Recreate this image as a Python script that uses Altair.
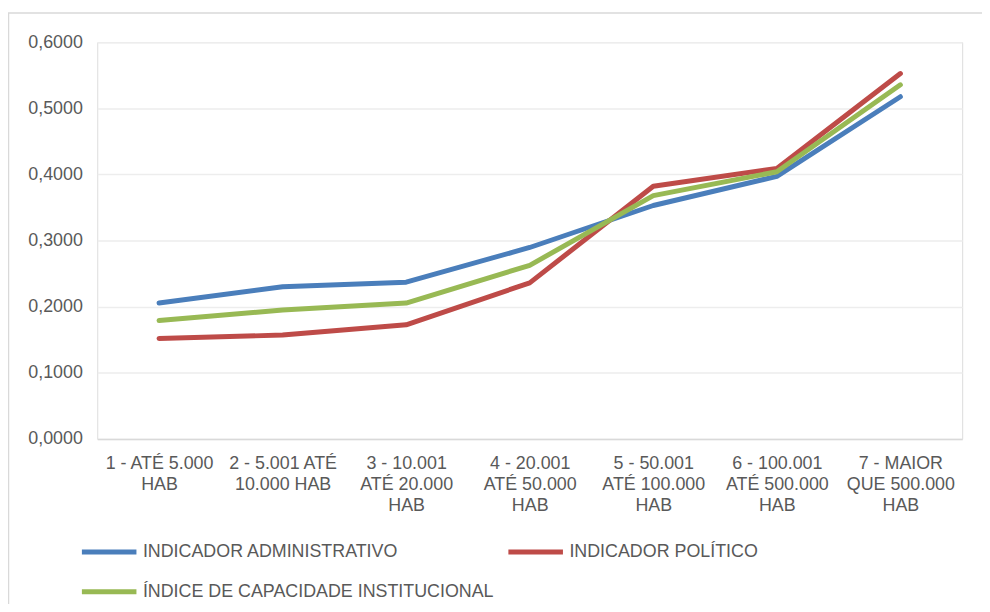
import altair as alt
import pandas as pd

categories = [
    "1 - ATÉ 5.000|HAB",
    "2 - 5.001 ATÉ|10.000 HAB",
    "3 - 10.001|ATÉ 20.000|HAB",
    "4 - 20.001|ATÉ 50.000|HAB",
    "5 - 50.001|ATÉ 100.000|HAB",
    "6 - 100.001|ATÉ 500.000|HAB",
    "7 - MAIOR|QUE 500.000|HAB",
]
series_names = [
    "INDICADOR ADMINISTRATIVO",
    "INDICADOR POLÍTICO",
    "ÍNDICE DE CAPACIDADE INSTITUCIONAL",
]
administrativo = [0.2055, 0.2300, 0.2370, 0.2895, 0.3530, 0.3970, 0.5175]
politico = [0.1520, 0.1570, 0.1725, 0.2360, 0.3820, 0.4090, 0.5525]
indice = [0.1790, 0.1950, 0.2055, 0.2625, 0.3680, 0.4040, 0.5355]
colors = ["#4A7EBB", "#BE4B48", "#98B954"]

rows = []
for name, vals in zip(series_names, [administrativo, politico, indice]):
    for i, (c, v) in enumerate(zip(categories, vals)):
        rows.append({"categoria": c, "serie": name, "valor": v, "ordem": i})
df = pd.DataFrame(rows)

FONT = "Liberation Sans"
TXT = "#595959"

lines = alt.Chart(df).mark_line(strokeWidth=5, strokeCap="round", strokeJoin="round").encode(
    x=alt.X(
        "categoria:N",
        sort=categories,
        scale=alt.Scale(padding=0.5),
        axis=alt.Axis(
            title=None,
            labelAngle=0,
            labelExpr="split(datum.label, '|')",
            labelFont=FONT,
            labelFontSize=18,
            labelColor=TXT,
            labelLineHeight=21,
            labelPadding=16,
            labelLimit=200,
            ticks=False,
            domain=True,
            domainColor="#D9D9D9",
            domainWidth=1.5,
            grid=False,
        ),
    ),
    y=alt.Y(
        "valor:Q",
        scale=alt.Scale(domain=[0, 0.6], nice=False),
        axis=alt.Axis(
            title=None,
            values=[0, 0.1, 0.2, 0.3, 0.4, 0.5, 0.6],
            labelExpr="replace(format(datum.value, '.4f'), '.', ',')",
            labelFont=FONT,
            labelFontSize=18,
            labelColor=TXT,
            labelPadding=15,
            ticks=False,
            domain=False,
            grid=True,
            gridColor="#EDEDED",
            gridWidth=1.5,
        ),
    ),
    color=alt.Color(
        "serie:N",
        sort=series_names,
        scale=alt.Scale(domain=series_names, range=colors),
        legend=alt.Legend(
            title=None,
            values=series_names,
            orient="none",
            legendX=-18,
            legendY=484,
            columns=2,
            direction="horizontal",
            columnPadding=4,
            rowPadding=-6,
            symbolType="stroke",
            symbolSize=3025,
            symbolStrokeWidth=5,
            labelFont=FONT,
            labelFontSize=18,
            labelColor=TXT,
            labelOffset=4,
            labelLimit=500,
            padding=0,
        ),
    ),
    order="ordem:Q",
)

frame = alt.Chart(pd.DataFrame({"a": [0]})).mark_rect(
    fill=None, stroke="#D9D9D9", strokeWidth=1.5
).encode(
    x=alt.value(-89.5),
    x2=alt.value(1200),
    y=alt.value(-29.5),
    y2=alt.value(900),
)

chart = alt.layer(frame, lines).properties(
    width=872,
    height=400,
    padding={"left": 90, "top": 32, "right": 20, "bottom": 164},
    autosize=alt.AutoSizeParams(type="none"),
).configure_view(stroke=None).configure(background="white")

chart.save("out.html", embed_options={"renderer": "svg", "actions": False})
